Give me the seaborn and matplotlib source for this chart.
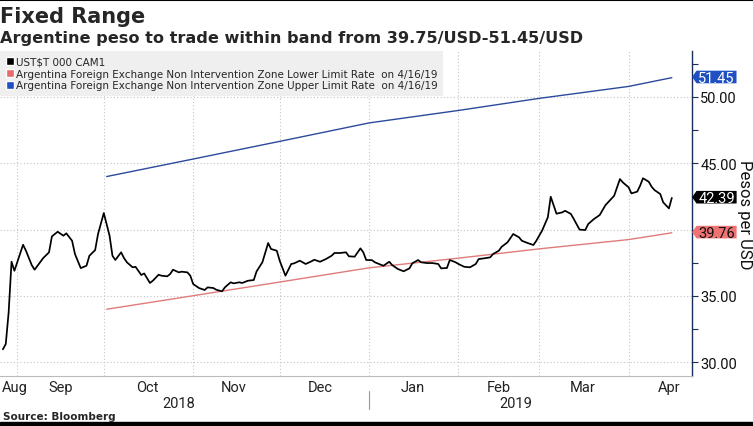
import matplotlib
matplotlib.use("Agg")
import matplotlib.pyplot as plt
import matplotlib.dates as mdates
import numpy as np
import pandas as pd
import seaborn as sns
from matplotlib.path import Path
from matplotlib.lines import Line2D
from matplotlib.patches import Patch, Rectangle

# --- data -------------------------------------------------------------------
cam1_dates = [
    "2018-08-27", "2018-08-28", "2018-08-29", "2018-08-30", "2018-08-31",
    "2018-09-03", "2018-09-04", "2018-09-06", "2018-09-07", "2018-09-10",
    "2018-09-12", "2018-09-13", "2018-09-15", "2018-09-17", "2018-09-18",
    "2018-09-20", "2018-09-21", "2018-09-23", "2018-09-25", "2018-09-26",
    "2018-09-28", "2018-09-29", "2018-10-01", "2018-10-03", "2018-10-04",
    "2018-10-05", "2018-10-07", "2018-10-08", "2018-10-09", "2018-10-11",
    "2018-10-12", "2018-10-14", "2018-10-15", "2018-10-17", "2018-10-18",
    "2018-10-20", "2018-10-21", "2018-10-23", "2018-10-24", "2018-10-25",
    "2018-10-27", "2018-10-28", "2018-10-30", "2018-10-31", "2018-11-01",
    "2018-11-03", "2018-11-05", "2018-11-06", "2018-11-08", "2018-11-09",
    "2018-11-11", "2018-11-12", "2018-11-14", "2018-11-15", "2018-11-17",
    "2018-11-18", "2018-11-20", "2018-11-22", "2018-11-23", "2018-11-25",
    "2018-11-27", "2018-11-28", "2018-11-30", "2018-12-01", "2018-12-03",
    "2018-12-05", "2018-12-06", "2018-12-08", "2018-12-10", "2018-12-12",
    "2018-12-13", "2018-12-15", "2018-12-17", "2018-12-19", "2018-12-20",
    "2018-12-22", "2018-12-24", "2018-12-25", "2018-12-27", "2018-12-29",
    "2018-12-30", "2018-12-31", "2019-01-02", "2019-01-03", "2019-01-05",
    "2019-01-06", "2019-01-08", "2019-01-09", "2019-01-11", "2019-01-13",
    "2019-01-15", "2019-01-16", "2019-01-18", "2019-01-19", "2019-01-21",
    "2019-01-23", "2019-01-25", "2019-01-26", "2019-01-28", "2019-01-29",
    "2019-01-31", "2019-02-01", "2019-02-03", "2019-02-05", "2019-02-07",
    "2019-02-08", "2019-02-10", "2019-02-12", "2019-02-13", "2019-02-15",
    "2019-02-16", "2019-02-18", "2019-02-20", "2019-02-22", "2019-02-23",
    "2019-02-25", "2019-02-27", "2019-02-28", "2019-03-02", "2019-03-04",
    "2019-03-05", "2019-03-07", "2019-03-09", "2019-03-10", "2019-03-12",
    "2019-03-13", "2019-03-15", "2019-03-17", "2019-03-18", "2019-03-20",
    "2019-03-22", "2019-03-24", "2019-03-27", "2019-03-29", "2019-03-30",
    "2019-04-01", "2019-04-02", "2019-04-04", "2019-04-05", "2019-04-06",
    "2019-04-08", "2019-04-09", "2019-04-10", "2019-04-12", "2019-04-13",
    "2019-04-15", "2019-04-16",
]
cam1_values = [
    30.98, 31.38, 33.77, 37.58, 36.90,
    38.86, 38.41, 37.33, 36.98, 37.86,
    38.29, 39.49, 39.84, 39.54, 39.72,
    39.16, 38.16, 37.10, 37.28, 38.03,
    38.46, 39.67, 41.25, 39.54, 38.03,
    37.71, 38.29, 37.86, 37.54, 37.16,
    37.20, 36.58, 36.70, 35.98, 36.15,
    36.60, 36.53, 36.48, 36.65, 36.98,
    36.78, 36.83, 36.78, 36.53, 35.90,
    35.60, 35.45, 35.65, 35.60, 35.47,
    35.35, 35.65, 36.03, 35.95, 36.03,
    35.98, 36.15, 36.20, 36.86, 37.54,
    38.99, 38.54, 38.41, 37.66, 36.53,
    37.41, 37.46, 37.66, 37.41, 37.61,
    37.73, 37.58, 37.78, 38.03, 38.24,
    38.24, 38.29, 37.99, 37.96, 38.59,
    38.29, 37.71, 37.70, 37.54, 37.36,
    37.28, 37.58, 37.33, 37.03, 36.86,
    37.08, 37.46, 37.71, 37.54, 37.48,
    37.48, 37.41, 37.08, 37.11, 37.71,
    37.54, 37.41, 37.20, 37.16, 37.41,
    37.78, 37.84, 37.91, 38.16, 38.41,
    38.71, 39.04, 39.67, 39.42, 39.16,
    38.99, 38.84, 39.16, 39.92, 40.93,
    42.48, 41.20, 41.30, 41.42, 41.18,
    40.80, 40.00, 39.97, 40.42, 40.80,
    41.10, 41.85, 42.55, 43.81, 43.56,
    43.19, 42.73, 42.86, 43.31, 43.87,
    43.61, 43.23, 42.98, 42.68, 42.06,
    41.60, 42.39,
]
band_dates = ["2018-10-02", "2018-11-01", "2018-12-01", "2019-01-01",
              "2019-02-01", "2019-03-01", "2019-04-01", "2019-04-16"]
lower_values = [34.00, 35.02, 36.05, 37.12, 37.85, 38.55, 39.25, 39.76]
upper_values = [44.00, 45.32, 46.65, 48.04, 48.98, 49.89, 50.79, 51.45]

month_starts = ["2018-09-01", "2018-10-01", "2018-11-01", "2018-12-01",
                "2019-01-01", "2019-02-01", "2019-03-01", "2019-04-01"]
month_label_dates = ["2018-08-31", "2018-09-16", "2018-10-16", "2018-11-15",
                     "2018-12-15", "2019-01-16", "2019-02-15", "2019-03-16",
                     "2019-04-15"]
month_labels = ["Aug", "Sep", "Oct", "Nov", "Dec", "Jan", "Feb", "Mar", "Apr"]
year_labels = ["2018", "2019"]
year_label_dates = ["2018-10-27", "2019-02-21"]
y_ticks = [30, 35, 40, 45, 50]
y_ticklabels = ["30.00", "35.00", "", "45.00", "50.00"]  # 40.00 sits under the 39.76 tag
y_minor = [32.5, 37.5, 42.5, 47.5, 52.5]

lbl_cam1 = r"UST\$T 000 CAM1"
lbl_low = "Argentina Foreign Exchange Non Intervention Zone Lower Limit Rate  on 4/16/19"
lbl_up = "Argentina Foreign Exchange Non Intervention Zone Upper Limit Rate  on 4/16/19"

# --- style / fonts -----------------------------------------------------------
sns.set_style("white")
plt.rcParams["font.family"] = ["DejaVu Sans"]
narrow = ["Roboto", "DejaVu Sans"]

c_black = "#000000"
c_low = "#e07b7b"
c_up = "#2b4a9c"
c_axis = "#1c2c5a"

df = pd.DataFrame({"date": pd.to_datetime(cam1_dates), "value": cam1_values})
bands = pd.DataFrame({"date": pd.to_datetime(band_dates),
                      "lower": lower_values, "upper": upper_values})

fig = plt.figure(figsize=(7.53, 4.27), dpi=100)
ax = fig.add_axes([0.0, 1 - 377 / 427, 692 / 753, 325 / 427])

sns.lineplot(data=bands, x="date", y="upper", ax=ax, color=c_up, lw=1.0)
sns.lineplot(data=bands, x="date", y="lower", ax=ax, color=c_low, lw=1.0)
sns.lineplot(data=df, x="date", y="value", ax=ax, color=c_black, lw=1.25)

ax.set_xlim(pd.Timestamp("2018-08-26"), pd.Timestamp("2019-04-23"))
ax.set_ylim(28.97, 53.46)

# x axis: ticks at month boundaries, labels mid-month
ax.set_xticks(pd.to_datetime(month_starts))
ax.set_xticklabels([""] * len(month_starts))
ax.set_xticks(pd.to_datetime(month_label_dates), minor=True)
ax.set_xticklabels(month_labels, minor=True, family=narrow)
ax.tick_params(axis="x", which="major", length=4, color="#888888", direction="out")
ax.tick_params(axis="x", which="minor", length=0, pad=3, labelsize=10.5, labelcolor="#222222")

# y axis on the right
ax.yaxis.tick_right()
ax.yaxis.set_label_position("right")
ax.set_yticks(y_ticks)
ax.set_yticklabels(y_ticklabels, family=narrow)
ax.set_yticks(y_minor, minor=True)
ax.tick_params(axis="y", which="both", direction="out", color=c_axis, width=0.8,
               labelsize=10.5, labelcolor="#111111", pad=2, length=4)

ax.grid(axis="x", which="major", linestyle=(0, (1, 2)), color="#c4c4c4", lw=0.8)
ax.grid(axis="y", which="major", linestyle=(0, (1, 2)), color="#c4c4c4", lw=0.8)

for s in ["left", "top"]:
    ax.spines[s].set_visible(False)
ax.spines["right"].set_color(c_axis)
ax.spines["right"].set_linewidth(1.0)
ax.spines["bottom"].set_color("#bbbbbb")
ax.spines["bottom"].set_linewidth(0.8)

ax.set_xlabel("")
ax.set_ylabel("Pesos per USD", rotation=270, fontsize=12, family=narrow, color="#111111")
ax.yaxis.label.set_verticalalignment("center")
ax.yaxis.set_label_coords(1.076, 0.5)

# year labels under the months
xt = ax.get_xaxis_transform()
for d, t in zip(year_label_dates, year_labels):
    ax.text(pd.Timestamp(d), -0.082, t, transform=xt, ha="center", va="center",
            fontsize=10.5, color="#222222", family=narrow)
jan1 = mdates.date2num(pd.Timestamp("2019-01-01"))
ax.add_line(Line2D([jan1, jan1], [-0.046, -0.102], transform=xt, clip_on=False,
                   color="#999999", lw=0.8))

# legend
handles = [Patch(facecolor=c_black), Patch(facecolor="#e86a6a"), Patch(facecolor="#1f4fc0")]
leg = ax.legend(handles, [lbl_cam1, lbl_low, lbl_up], loc="upper left",
                bbox_to_anchor=(0.0, 1.0), borderaxespad=0, frameon=True,
                fancybox=False, facecolor="#efefef", edgecolor="none", framealpha=1,
                fontsize=7.5, handlelength=0.75, handleheight=0.75, handletextpad=0.2,
                labelspacing=0.18, borderpad=0.55)


# tag-shaped value labels on the axis
def tag_box(x0, y0, width, height, mutation_size):
    px = 0.12 * mutation_size
    yb = y0 + 0.1 * height
    yt = y0 + height * 1.0
    xl = x0 - px
    xr = x0 + width + px
    tip = 0.3 * mutation_size
    ym = (yb + yt) / 2
    return Path([(xl - tip, ym), (xl, yb), (xr, yb), (xr, yt), (xl, yt), (xl - tip, ym)],
                closed=True)


last_vals = [(upper_values[-1], "#1f4fc0", "white"),
             (cam1_values[-1], "black", "white"),
             (lower_values[-1], "#f07373", "#111111")]
yt_ = ax.get_yaxis_transform()
for v, fc, tc in last_vals:
    ax.annotate(f"{v:.2f}", xy=(1, v), xycoords=yt_, xytext=(4.5, 0),
                textcoords="offset points", ha="left", va="center", fontsize=10.5,
                family=narrow, color=tc, annotation_clip=False, zorder=10,
                bbox=dict(boxstyle=tag_box, facecolor=fc, edgecolor="none"))

# titles, source, rules
fig.text(0.0, 1 - 17 / 427, "Fixed Range", fontsize=15, fontweight="bold",
         va="center", ha="left")
fig.text(0.0, 1 - 38 / 427, "Argentine peso to trade within band from 39.75/USD-51.45/USD",
         fontsize=11.6, fontweight="bold", va="center", ha="left")
fig.text(0.004, 1 - 417 / 427, "Source: Bloomberg", fontsize=7.5, fontweight="bold",
         va="center", ha="left")
fig.add_artist(Line2D([0, 1], [0.998, 0.998], transform=fig.transFigure, color="black", lw=1.5))
fig.add_artist(Rectangle((0, 0), 1, 4 / 427, transform=fig.transFigure, color="black"))

fig.savefig("out.png", dpi=100)
